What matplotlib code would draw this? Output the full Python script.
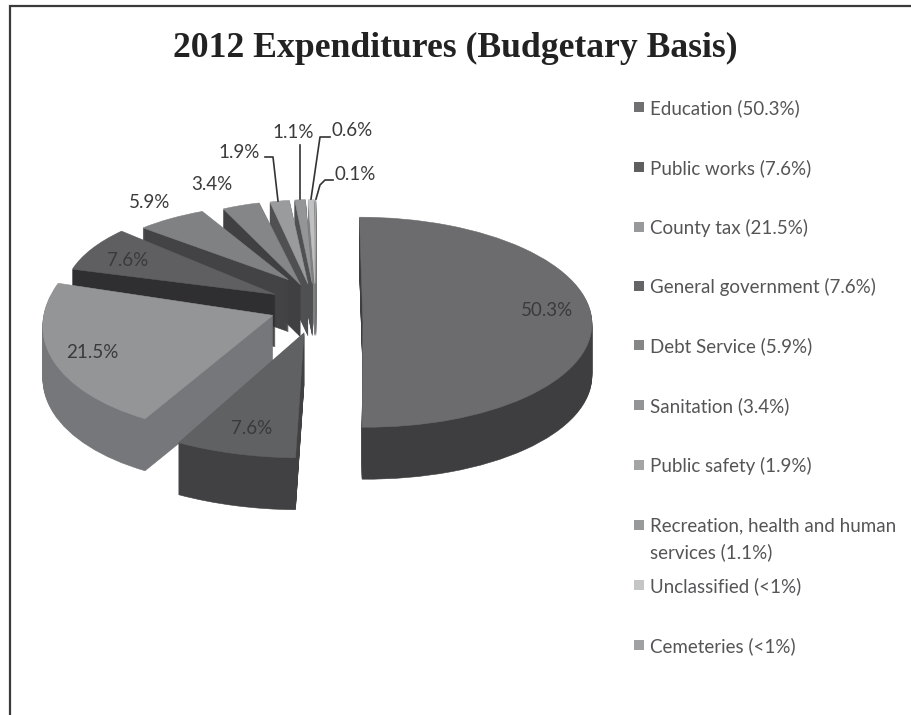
import math
import matplotlib
matplotlib.use("Agg")
import matplotlib.pyplot as plt
from matplotlib.patches import Rectangle
from matplotlib.transforms import Affine2D

# Slices, clockwise from 12 o'clock
values = [50.3, 7.6, 21.5, 7.6, 5.9, 3.4, 1.9, 1.1, 0.6, 0.1]
value_labels = ["50.3%", "7.6%", "21.5%", "7.6%", "5.9%", "3.4%", "1.9%", "1.1%", "0.6%", "0.1%"]
legend_labels = [
    "Education (50.3%)",
    "Public works (7.6%)",
    "County tax (21.5%)",
    "General government (7.6%)",
    "Debt Service (5.9%)",
    "Sanitation (3.4%)",
    "Public safety (1.9%)",
    "Recreation, health and human\nservices (1.1%)",
    "Unclassified (<1%)",
    "Cemeteries (<1%)",
]

# Colours of top faces, side faces and legend keys
top_colors = ["#6c6c6e", "#606163", "#939597", "#5f5f61", "#808183",
              "#858688", "#9a9b9d", "#949597", "#c0c1c3", "#a8a8aa"]
side_colors = ["#3e3e40", "#414143", "#76777a", "#2f2e30", "#434345",
               "#404042", "#505052", "#4f5052", "#808082", "#707072"]
key_colors = ["#707072", "#5f5f61", "#98999b", "#656567", "#858688",
              "#939496", "#a3a4a6", "#98999b", "#c4c5c7", "#a0a1a3"]

# Tweaks per slice to imitate the perspective of the 3D chart
explode = [0.205] * 10
stretch_x = [1.0, 1.12, 1.0, 0.92, 0.87, 0.78, 0.72, 0.68, 0.66, 0.66]
stretch_y = [1.0, 1.19, 1.12, 0.88, 0.72, 0.8, 0.8, 0.8, 0.8, 0.8]
shift_y = [-17, -7, -2, 0, 8, 0, 0, 0, 0, 0]
shear = [-0.033, 0.03, 0.18, 0, 0, 0, 0, 0, 0, 0]

W, H = 911, 715
CX, CY = 316, 305   # pie centre in pixels
RX, RY = 229, 105   # pie radii in pixels
DEPTH = 52

fig = plt.figure(figsize=(W / 100, H / 100), dpi=100, facecolor="white")
ax = fig.add_axes([0, 0, 1, 1])


def draw_layer(drop, colors, z):
    wedges, _ = ax.pie(values, explode=explode, radius=1, center=(0, -drop / RY),
                       startangle=90, counterclock=False, colors=colors,
                       wedgeprops={"linewidth": 0.4})
    for i, w in enumerate(wedges):
        cx, cy = w.center
        w.set_edgecolor(colors[i])
        tilt = math.atan(shear[i] * RY / RX)
        w.set_transform(Affine2D().translate(-cx, -cy).scale(stretch_x[i], stretch_y[i])
                        .skew(tilt, 0).translate(cx, cy + shift_y[i] / RY) + ax.transData)
        # back slices first, the front ones paint over them
        w.set_zorder(z + (10 - i) * 100 if i > 0 else z)


for d in range(DEPTH, 0, -1):
    draw_layer(d, side_colors, 1)
draw_layer(0, top_colors, 50)

ax.set_aspect("auto")
ax.set_xlim(-CX / RX, (W - CX) / RX)
ax.set_ylim((CY - H) / RY, CY / RY)
ax.axis("off")

# Overlay in image coordinates for the texts
ov = fig.add_axes([0, 0, 1, 1], zorder=5)
ov.set_xlim(0, W)
ov.set_ylim(H, 0)
ov.axis("off")

ov.plot([10, 10, W], [H, 6, 6], color="#3a3a3a", lw=1.6, solid_joinstyle="miter")

ov.text(455, 48, "2012 Expenditures (Budgetary Basis)", ha="center", va="center",
        family="Liberation Serif", fontweight="bold", fontsize=25.7, color="#222222")

label_x = [547, 252, 92, 128, 150, 212, 239, 293, 352, 355]
label_y = [310, 428, 353, 261, 203, 184, 152, 133, 131, 175]
for x, y, t in zip(label_x, label_y, value_labels):
    ov.text(x, y, t, ha="center", va="center", family="Lato", fontsize=13.5, color="#3a3a3c")

# Leader lines of the small slices
leaders = [
    ([265, 273, 278], [157, 157, 201]),
    ([300, 300], [145, 199]),
    ([330, 320, 311], [137, 137, 199]),
    ([333, 325, 320, 316], [180, 180, 185, 199]),
]
for lx, ly in leaders:
    ov.plot(lx, ly, color="#333333", lw=1.2)

# Legend
legend_y = [107, 167, 227, 286, 345, 405, 465, 525, 585, 645]
for i, (t, y) in enumerate(zip(legend_labels, legend_y)):
    ov.add_patch(Rectangle((634, y - 5), 10, 10, color=key_colors[i], lw=0))
    ov.text(650, y - 8, t, ha="left", va="top", family="Lato", fontsize=13.5,
            color="#555557", linespacing=1.6)

fig.savefig("out.png", dpi=100)
